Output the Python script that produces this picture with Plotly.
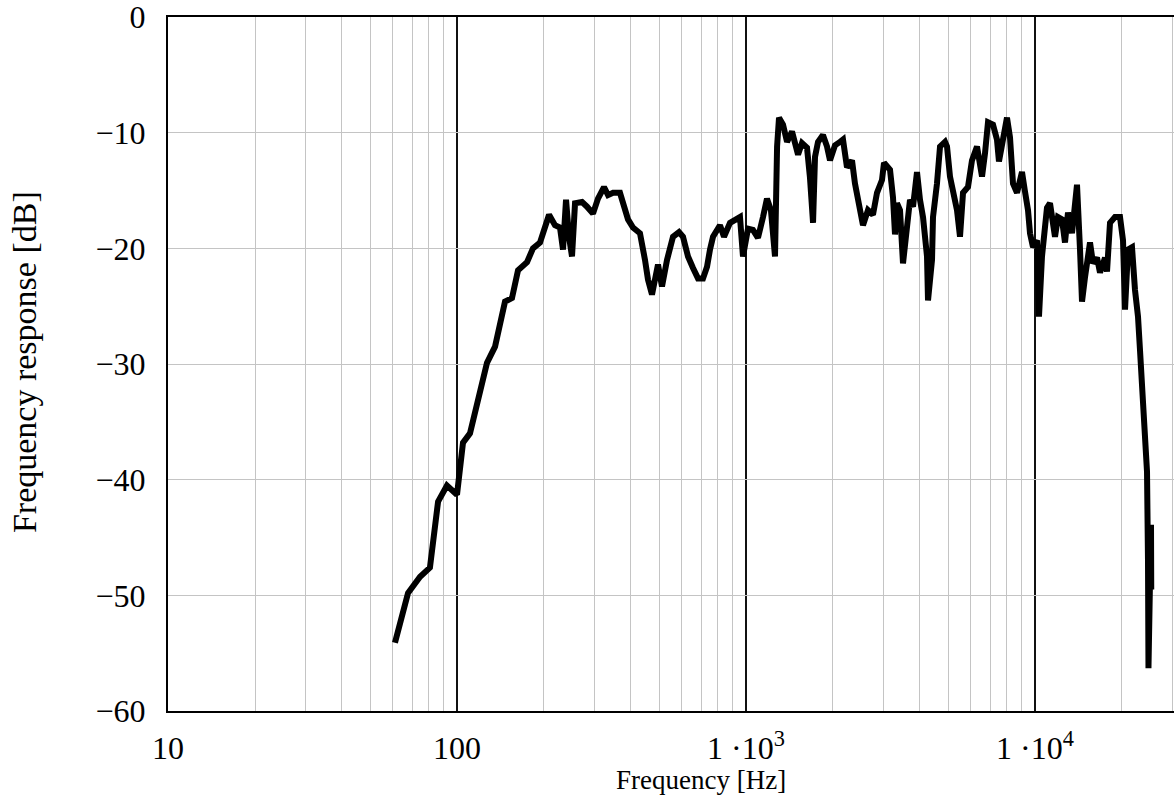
import plotly.graph_objects as go

freq_hz = [
    61.0, 67.7, 74.5, 80.6, 86.0, 92.3, 100, 104.9, 110.9, 127.0, 135.4, 146.6, 155.0,
    162.6, 174.7, 183.2, 193.8, 208.2, 218.3, 227.2, 232.7, 238.4, 244.1, 250.0, 256.1,
    270.8, 281.8, 295.5, 307.5, 322.6, 333.1, 346.7, 366.4, 381.3, 390.6, 406.4, 429.7,
    447.2, 458.0, 472.8, 484.3, 496.0, 512.1, 533.0, 559.0, 586.4, 605.3, 630.0, 655.6,
    682.3, 710.0, 733.1, 750.7, 769.0, 812.8, 839.3, 880.5, 930.9, 953.2, 976.3, 1016,
    1057, 1100, 1145, 1182, 1220, 1260, 1281, 1301, 1343, 1387, 1443, 1478, 1514, 1562,
    1626, 1665, 1706, 1733, 1775, 1846, 1907, 1953, 2032, 2115, 2166, 2236, 2327, 2383,
    2441, 2540, 2643, 2750, 2840, 2955, 3003, 3150, 3226, 3278, 3330, 3411, 3494, 3607,
    3694, 3784, 3906, 4000, 4098, 4230, 4264, 4402, 4437, 4580, 4692, 4883, 4961, 5080,
    5204, 5372, 5502, 5636, 5864, 6053, 6300, 6453, 6557, 6714, 6877, 7156, 7387, 7505,
    7749, 8000, 8194, 8393, 8665, 9016, 9235, 9459, 9611, 9842, 10160, 10323, 10573,
    11002, 11269, 11727, 12011, 12400, 12700, 13008, 13429, 13975, 14314, 14544, 14896,
    15502, 15877, 16390, 16787, 17469, 17750, 18180, 18917, 19685, 20163, 20487, 20983,
    21661, 22185, 22721, 23087, 23647, 24026, 24412, 24604, 24700, 25200, 25250,
]

response_db = [
    -54.1, -49.8, -48.4, -47.6, -41.9, -40.5, -41.3, -36.8, -36.0, -29.9, -28.5, -24.6, -24.3,
    -21.9, -21.2, -20.0, -19.5, -17.1, -18.0, -18.2, -20.1, -15.8, -19.0, -20.7, -16.1,
    -16.0, -16.4, -17.0, -15.7, -14.7, -15.4, -15.2, -15.2, -16.5, -17.5, -18.2, -18.7,
    -21.0, -22.7, -24.0, -22.5, -21.4, -23.3, -21.0, -19.0, -18.6, -19.0, -20.7, -21.7,
    -22.6, -22.6, -21.6, -20.1, -19.0, -18.0, -19.0, -17.8, -17.5, -17.3, -20.7, -18.3,
    -18.4, -19.1, -17.3, -15.7, -16.7, -20.7, -11.2, -8.7, -9.3, -10.8, -9.9, -10.8, -11.9, -10.9,
    -11.3, -13.9, -17.8, -12.1, -10.8, -10.2, -11.2, -12.4, -11.1, -10.8, -10.6, -13.0, -12.4, -14.4,
    -15.8, -18.0, -16.7, -17.1, -15.2, -14.1, -12.6, -13.2, -15.6, -18.8, -16.1, -16.7, -21.3, -18.0,
    -15.8, -16.4, -13.4, -15.8, -17.3, -20.7, -24.5, -21.0, -17.3, -14.4, -11.2, -10.8, -11.2, -13.8,
    -15.2, -16.7, -19.0, -15.2, -14.7, -12.4, -11.2, -12.4, -13.8, -11.8, -9.1, -9.3, -10.6, -12.5,
    -10.4, -8.7, -10.4, -14.4, -15.2, -13.4, -15.1, -16.7, -18.7, -19.9, -19.3, -25.9, -20.7,
    -16.5, -16.1, -19.0, -17.3, -17.5, -19.5, -16.9, -18.7, -14.5, -20.1, -24.6, -22.5,
    -19.5, -21.3, -20.8, -22.1, -20.8, -22.0, -17.8, -17.3, -17.3, -19.3, -25.3, -20.1,
    -19.9, -23.6, -25.9, -28.8, -33.0, -35.7, -39.3, -46.9, -56.3, -43.9, -49.5,
]

x_tick_vals = [10, 100, 1000, 10000]
x_tick_text = ["10", "100", "1 \u00b710<sup>3</sup>", "1 \u00b710<sup>4</sup>"]
y_tick_vals = [0, -10, -20, -30, -40, -50, -60]
y_tick_text = ["0", "\u221210", "\u221220", "\u221230", "\u221240", "\u221250", "\u221260"]

FONT = "Liberation Serif"

fig = go.Figure()
fig.add_trace(go.Scatter(
    x=freq_hz, y=response_db, mode="lines",
    line=dict(color="black", width=6),
    showlegend=False, hoverinfo="skip",
))

fig.update_layout(
    width=1174, height=798,
    margin=dict(l=168, r=0, t=17, b=87),
    paper_bgcolor="white", plot_bgcolor="white",
    font=dict(family=FONT, color="black", size=32),
    xaxis=dict(
        type="log", range=[1, 4.481],
        tickmode="array", tickvals=x_tick_vals, ticktext=x_tick_text,
        showgrid=True, gridcolor="#111111", gridwidth=1.5,
        minor=dict(dtick="D1", showgrid=True, gridcolor="#c4c4c4", gridwidth=1, ticks=""),
        showline=True, linecolor="black", linewidth=2, mirror=True,
        ticks="", ticklabelstandoff=8, zeroline=False,
        tickfont=dict(family=FONT, size=32),
    ),
    yaxis=dict(
        range=[-60, 0],
        tickmode="array", tickvals=y_tick_vals, ticktext=y_tick_text,
        showgrid=True, gridcolor="#c4c4c4", gridwidth=1,
        showline=True, linecolor="black", linewidth=2, mirror=False,
        ticks="", ticklabelstandoff=14, zeroline=False,
        ticklabeloverflow="allow",
        tickfont=dict(family=FONT, size=32),
    ),
    annotations=[
        dict(text="Frequency [Hz]", xref="paper", yref="paper", x=0.530, y=-0.1225,
             xanchor="center", yanchor="bottom", showarrow=False, borderpad=0,
             font=dict(family=FONT, size=27, color="black")),
        dict(text="Frequency response [dB]", xref="paper", yref="paper", x=-0.142, y=0.503,
             xanchor="center", yanchor="middle", showarrow=False, textangle=-90,
             font=dict(family=FONT, size=34, color="black")),
    ],
)

fig.write_html("out.html")
